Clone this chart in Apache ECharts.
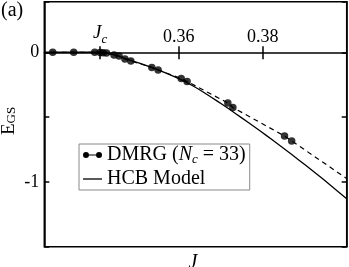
<!DOCTYPE html>
<html><head><meta charset="utf-8">
<script src="https://cdn.jsdelivr.net/npm/echarts@6/dist/echarts.min.js"></script>
<style>html,body{margin:0;padding:0;background:#fff}#c{width:349px;height:267px}</style>
</head><body><div id="c"></div>
<script>
// ---- data ----
const Jc = 0.3413;
const xTickValues = [Jc, 0.36, 0.38];
const xTickLabels = ['Jc', '0.36', '0.38'];
const yTickLabels = ['0', '-1'];
const dmrgJ = [0.3300, 0.3350, 0.3400, 0.3413, 0.3420, 0.3428, 0.3446, 0.3458, 0.3472, 0.3486, 0.3536, 0.3551, 0.3606, 0.3620, 0.3717, 0.3729, 0.3852, 0.3869];
const dmrgE = [0, 0, 0, -0.002, -0.004, -0.006, -0.021, -0.029, -0.052, -0.067, -0.117, -0.137, -0.202, -0.225, -0.391, -0.426, -0.646, -0.684];
const dmrgTailJ = [0.4000];
const dmrgTailE = [-0.974];
const hcbJ = [0.3280, 0.3413, 0.3425, 0.3440, 0.3460, 0.3480, 0.3510, 0.3540, 0.3570, 0.3600, 0.3630, 0.3660, 0.3690, 0.3720, 0.3750, 0.3780, 0.3810, 0.3840, 0.3870, 0.3900, 0.3930, 0.3960, 0.4000];
const hcbE = [0, 0, -0.004, -0.015, -0.034, -0.055, -0.088, -0.123, -0.161, -0.204, -0.253, -0.310, -0.373, -0.438, -0.506, -0.575, -0.645, -0.717, -0.791, -0.866, -0.943, -1.022, -1.130];

const FONT = 'Liberation Serif';
const Y_MIN = -1.5, Y_MAX = 0.39;
const zip = (a, b) => a.map((v, i) => [v, b[i]]);
const dmrgPts = zip(dmrgJ, dmrgE);
const dmrgLine = dmrgPts.concat(zip(dmrgTailJ, dmrgTailE));
const hcbPts = zip(hcbJ, hcbE);

const GRID = {left: 44.3, right: 2.3, top: 1.7, bottom: 20.3};
const H = 267;
const plotH = H - GRID.top - GRID.bottom;
// distance (px) from grid top down to the E = 0 line, derived from the axis range
const zeroOffset = plotH * (Y_MAX - 0) / (Y_MAX - Y_MIN);

const chart = echarts.init(document.getElementById('c'), null, {renderer: 'canvas'});
const xCommon = {
  type: 'value', min: 0.328, max: 0.400, position: 'top', offset: -zeroOffset,
  axisLine: {onZero: false, lineStyle: {color: '#000', width: 1.5}},
  splitLine: {show: false}
};
const yCommon = {
  type: 'value', min: Y_MIN, max: Y_MAX, interval: 0.5,
  axisLine: {show: true, lineStyle: {color: '#000', width: 1.5}},
  axisTick: {show: true, inside: true, length: 5, lineStyle: {color: '#000', width: 1.5}},
  splitLine: {show: false}
};
chart.setOption({
  animation: false,
  textStyle: {fontFamily: FONT, color: '#000'},
  grid: Object.assign({containLabel: false, outerBoundsMode: 'none',
    show: true, borderColor: '#000', borderWidth: 1.5, backgroundColor: 'transparent'}, GRID),
  xAxis: [
    Object.assign({}, xCommon, {
      axisTick: {show: true, inside: false, length: 6, customValues: xTickValues, lineStyle: {color: '#000', width: 1.5}},
      axisLabel: {
        show: true, margin: 6, customValues: xTickValues, fontSize: 18, fontFamily: FONT, color: '#000',
        formatter: v => {
          const i = xTickValues.findIndex(t => Math.abs(t - v) < 1e-6);
          if (i === 0) return '{j|J}{c|c}';
          return i > 0 ? xTickLabels[i] : '';
        },
        rich: {
          j: {fontSize: 19, fontStyle: 'italic', fontFamily: FONT, lineHeight: 20, padding: [0, 0, 6, 0]},
          c: {fontSize: 13, fontStyle: 'italic', fontFamily: FONT, lineHeight: 4, verticalAlign: 'bottom'}
        }
      }
    }),
    Object.assign({}, xCommon, {
      axisLine: {onZero: false, show: false},
      axisTick: {show: true, inside: true, length: 7, customValues: xTickValues, lineStyle: {color: '#000', width: 1.5}},
      axisLabel: {show: false}
    })
  ],
  yAxis: [
    Object.assign({}, yCommon, {
      position: 'left',
      axisLabel: {
        show: true, margin: 5, fontSize: 18, fontFamily: FONT, color: '#000',
        formatter: v => Math.abs(v) < 1e-9 ? yTickLabels[0] : (Math.abs(v + 1) < 1e-9 ? yTickLabels[1] : '')
      }
    }),
    Object.assign({}, yCommon, {position: 'right', axisLabel: {show: false}})
  ],
  legend: {
    left: 79, top: 144, orient: 'vertical',
    padding: [1, 4, 1, 4], itemGap: 3,
    itemWidth: 19, itemHeight: 8,
    backgroundColor: '#fff', borderColor: '#888', borderWidth: 1,
    textStyle: {fontFamily: FONT, fontSize: 20, color: '#000',
      rich: {
        t: {fontSize: 20, fontFamily: FONT, lineHeight: 22},
        i: {fontSize: 20, fontFamily: FONT, fontStyle: 'italic', lineHeight: 22},
        s: {fontSize: 13, fontFamily: FONT, fontStyle: 'italic', lineHeight: 4, verticalAlign: 'bottom'}
      }},
    formatter: n => n === 'DMRG' ? '{t|DMRG (}{i|N}{s|c}{t| = 33)}' : '{t|HCB Model}',
    data: [
      {name: 'DMRG', icon: 'path://M0,4a3,3 0 1,0 6,0a3,3 0 1,0 -6,0Z M6,3.4H13V4.6H6Z M13,4a3,3 0 1,0 6,0a3,3 0 1,0 -6,0Z', itemStyle: {color: '#000'}},
      {name: 'HCB Model', icon: 'path://M0,0H19V1.3H0Z', itemStyle: {color: '#000'}}
    ]
  },
  graphic: [
    {type: 'text', left: 1, top: 1, style: {text: '(a)', fontSize: 20, fontFamily: FONT, fill: '#000'}},
    {type: 'text', x: 193, y: 253, style: {text: 'J', fontSize: 20, fontStyle: 'italic', fontFamily: FONT, fill: '#000', align: 'center', verticalAlign: 'top'}},
    {type: 'text', x: 9, y: 121, rotation: Math.PI / 2,
      style: {text: '{e|E}{s|GS}', align: 'center', verticalAlign: 'middle', fill: '#000',
        rich: {e: {fontSize: 19, fontFamily: FONT, lineHeight: 18}, s: {fontSize: 13, fontFamily: FONT, lineHeight: 4, verticalAlign: 'bottom'}}}}
  ],
  series: [
    {name: 'HCB Model', type: 'line', data: hcbPts, xAxisIndex: 0, yAxisIndex: 0, showSymbol: false, symbol: 'none',
      smooth: 0.2, clip: true, lineStyle: {color: '#000', width: 1.3}, itemStyle: {color: '#000'}},
    {name: 'DMRG', type: 'line', data: dmrgLine, xAxisIndex: 0, yAxisIndex: 0, showSymbol: false, symbol: 'none',
      clip: true, lineStyle: {color: '#000', width: 1.2, type: [5, 4]}, itemStyle: {color: '#000'}},
    {name: 'DMRG', type: 'scatter', data: dmrgPts, xAxisIndex: 0, yAxisIndex: 0, symbol: 'circle', symbolSize: 7.5,
      itemStyle: {color: '#000'}, clip: true}
  ]
});
</script></body></html>
